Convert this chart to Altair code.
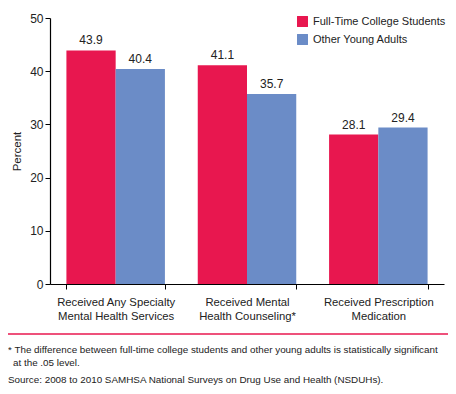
import altair as alt
import pandas as pd

categories = ["Received Any Specialty|Mental Health Services",
              "Received Mental|Health Counseling*",
              "Received Prescription|Medication"]
groups = ["Full-Time College Students", "Other Young Adults"]
college = [43.9, 41.1, 28.1]
other = [40.4, 35.7, 29.4]
colors = ["#E8174F", "#6B8CC7"]

rows = []
for c, a, b in zip(categories, college, other):
    rows.append({"cat": c, "grp": groups[0], "val": a, "lbl": f"{a:.1f}"})
    rows.append({"cat": c, "grp": groups[1], "val": b, "lbl": f"{b:.1f}"})
df = pd.DataFrame(rows)

FONT = "Liberation Sans"

x = alt.X("cat:N", sort=categories, title=None,
          scale=alt.Scale(paddingInner=0.25, paddingOuter=0.125),
          axis=alt.Axis(labelExpr="split(datum.label, '|')", labelAngle=0,
                        labelFontSize=11.3, labelColor="#222", labelFont=FONT,
                        labelPadding=7, labelLineHeight=14,
                        domainColor="#000", tickColor="#000", tickBand="extent",
                        tickSize=5, domainWidth=1.2))
y = alt.Y("val:Q", title="Percent",
          scale=alt.Scale(domain=[0, 50]),
          axis=alt.Axis(values=[0, 10, 20, 30, 40, 50], grid=False,
                        labelFontSize=12, labelColor="#222", labelFont=FONT,
                        titleFontSize=11.5, titleFontWeight="normal", titleColor="#222",
                        titleFont=FONT, titlePadding=7,
                        domainColor="#000", tickColor="#000", tickSize=5, domainWidth=1.2))
color = alt.Color("grp:N", sort=groups, scale=alt.Scale(domain=groups, range=colors),
                  legend=alt.Legend(title=None, orient="none", legendX=247, legendY=-2,
                                    symbolType="square", symbolSize=120, symbolStrokeWidth=0,
                                    labelFontSize=11, labelFont=FONT, labelColor="#222",
                                    rowPadding=6, symbolOpacity=1, labelOffset=5))

base = alt.Chart(df)
bars = base.mark_bar(opacity=1).encode(x=x, y=y, color=color,
                                       xOffset=alt.XOffset("grp:N", sort=groups))
text = base.mark_text(dy=-10, fontSize=12, font=FONT, color="#222").encode(
    x=x, y=y, text="lbl:N", xOffset=alt.XOffset("grp:N", sort=groups))

rule = alt.Chart(pd.DataFrame({"a": [0]})).mark_rule(color="#E8174F", strokeWidth=1.5).encode(
    x=alt.value(-50), x2=alt.value(398), y=alt.value(316))

notes = pd.DataFrame({
    "t": ["* The difference between full-time college students and other young adults is statistically significant",
          "at the .05 level.",
          "Source: 2008 to 2010 SAMHSA National Surveys on Drug Use and Health (NSDUHs)."],
    "xx": [-42, -37, -42],
    "yy": [332, 345, 362]})
note_text = alt.Chart(notes).mark_text(align="left", baseline="middle", fontSize=9.85,
                                       font=FONT, color="#222").encode(
    x=alt.X("xx:Q", scale=None), y=alt.Y("yy:Q", scale=None), text="t:N")

chart = alt.layer(bars, text, rule, note_text).properties(
    width=394, height=266,
    autosize=alt.AutoSizeParams(type="none"),
    padding={"left": 42, "top": 10, "right": 4, "bottom": 108},
).configure_view(stroke=None)

chart.save("out.html", embed_options={"renderer": "svg", "actions": False})
